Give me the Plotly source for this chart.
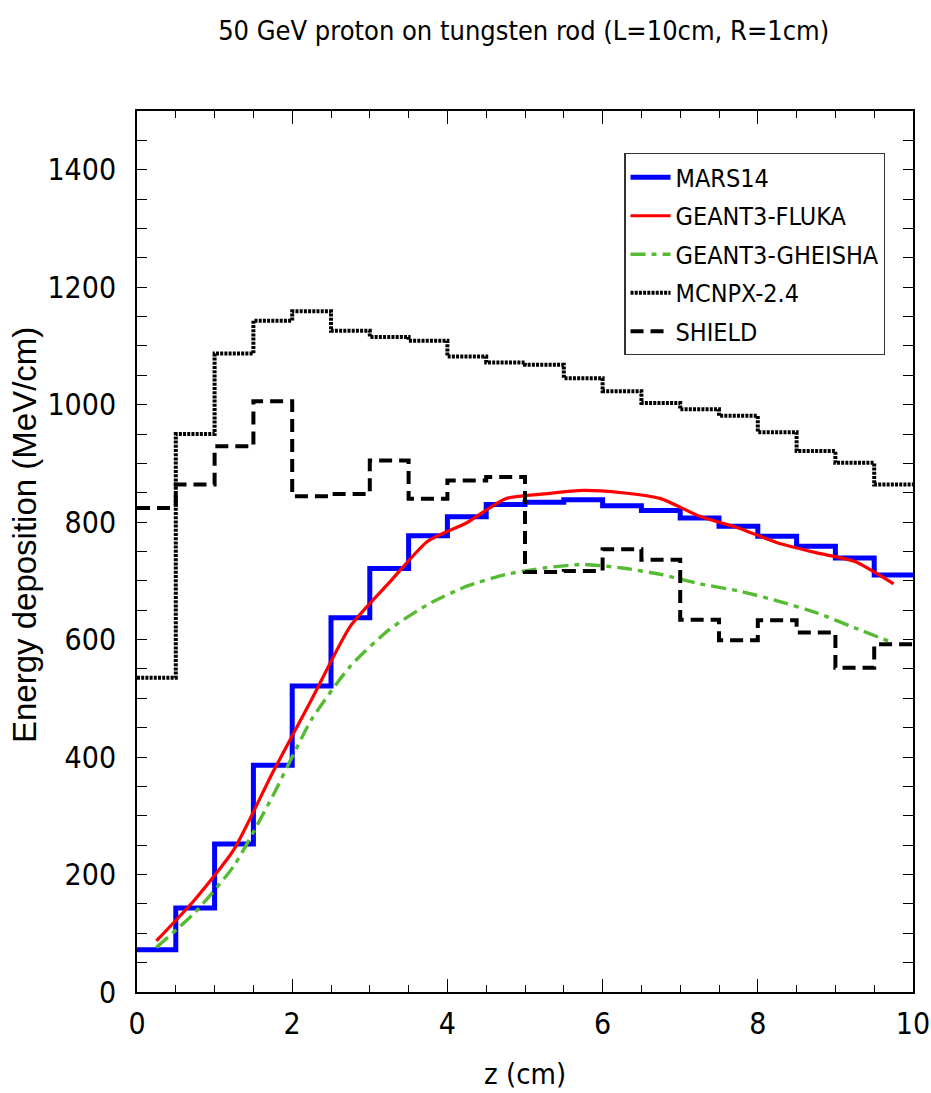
import plotly.graph_objects as go

# Bin edges along the rod (cm), 0.5 cm bins
z_edges = [0.0, 0.5, 1.0, 1.5, 2.0, 2.5, 3.0, 3.5, 4.0, 4.5, 5.0,
           5.5, 6.0, 6.5, 7.0, 7.5, 8.0, 8.5, 9.0, 9.5, 10.0]
# Bin centres used by the GEANT3 curves
z_centres = [0.25, 0.75, 1.25, 1.75, 2.25, 2.75, 3.25, 3.75, 4.25, 4.75,
             5.25, 5.75, 6.25, 6.75, 7.25, 7.75, 8.25, 8.75, 9.25, 9.75]

# Energy deposition per bin (MeV/cm)
mars14 = [72, 143, 252, 386, 521, 637, 721, 777, 809, 830,
          834, 838, 828, 820, 807, 793, 776, 759, 739, 710]
mcnpx = [535, 950, 1087, 1143, 1159, 1126, 1115, 1109, 1082, 1072,
         1068, 1045, 1023, 1003, 992, 981, 953, 921, 901, 864]
shield = [824, 864, 929, 1006, 844, 848, 905, 840, 871, 877,
          715, 717, 754, 736, 634, 599, 633, 612, 552, 592]
fluka = [87, 158, 243, 374, 498, 623, 697, 768, 799, 840,
         848, 854, 850, 840, 810, 790, 765, 748, 733, 695]
gheisha = [76, 136, 215, 334, 464, 555, 617, 660, 691, 711,
           722, 728, 722, 711, 695, 683, 666, 646, 620, 594]

x_ticks = [0, 2, 4, 6, 8, 10]
y_ticks = [0, 200, 400, 600, 800, 1000, 1200, 1400]

NARROW = "Liberation Sans Narrow, DejaVu Sans Condensed, Arial Narrow, sans-serif"
REGULAR = "Liberation Sans, Arial, sans-serif"


def steps(values):
    # repeat the last bin so the 'hv' step closes at the final edge
    return values + [values[-1]]


fig = go.Figure()
fig.add_trace(go.Scatter(
    x=z_edges, y=steps(mars14), mode="lines", name="MARS14", legendgroup="a",
    line=dict(color="#0000ff", width=5, shape="hv")))
fig.add_trace(go.Scatter(
    x=z_centres, y=fluka, mode="lines", name="GEANT3-FLUKA", legendgroup="b",
    line=dict(color="#ff0000", width=3.2, shape="spline", smoothing=0.6)))
fig.add_trace(go.Scatter(
    x=z_centres, y=gheisha, mode="lines", name="GEANT3-GHEISHA", legendgroup="c",
    line=dict(color="#55bb33", width=3.4, shape="spline", smoothing=0.6,
              dash="15px,6px,5px,6px")))
fig.add_trace(go.Scatter(
    x=z_edges, y=steps(mcnpx), mode="lines", name="MCNPX-2.4", legendgroup="d",
    line=dict(color="#000000", width=4, shape="hv", dash="3px,1.2px")))
fig.add_trace(go.Scatter(
    x=z_edges, y=steps(shield), mode="lines", name="SHIELD", legendgroup="e",
    line=dict(color="#000000", width=4, shape="hv", dash="13px,7px")))

fig.update_layout(
    template="none",
    width=931, height=1093,
    margin=dict(l=137, r=18, t=111, b=101, autoexpand=False),
    paper_bgcolor="white", plot_bgcolor="white",
    title=dict(text="50 GeV proton on tungsten rod (L=10cm, R=1cm)",
               font=dict(family=NARROW, size=27, color="black"),
               x=0.5625, xanchor="center", y=0.972, yanchor="middle"),
    showlegend=True,
    legend=dict(x=0.628, y=0.952, xanchor="left", yanchor="top",
                bgcolor="white", bordercolor="#333333", borderwidth=1.2,
                font=dict(family=NARROW, size=25, color="black"),
                tracegroupgap=3, itemwidth=40),
    annotations=[
        dict(text="Energy deposition (MeV/cm)", textangle=-90,
             xref="paper", yref="paper", x=-0.144, y=0.519,
             xanchor="center", yanchor="middle", showarrow=False,
             font=dict(family=REGULAR, size=33, color="black")),
        dict(text="z (cm)", xref="paper", yref="paper", x=0.5, y=-0.093,
             xanchor="center", yanchor="middle", showarrow=False,
             font=dict(family=NARROW, size=29, color="black")),
    ],
)

fig.update_xaxes(
    range=[0, 10], tickvals=x_ticks, ticks="inside", ticklen=13, tickwidth=1.2,
    tickcolor="black", showline=True, linecolor="black", linewidth=1.8,
    mirror="allticks", showgrid=False, zeroline=False, automargin=False,
    minor=dict(dtick=0.5, ticks="inside", ticklen=7, tickwidth=1, tickcolor="black"),
    tickfont=dict(family=NARROW, size=30, color="black"), ticklabelstandoff=4,
)
fig.update_yaxes(
    range=[0, 1500], tickvals=y_ticks, ticks="inside", ticklen=10, tickwidth=1.2,
    tickcolor="black", showline=True, linecolor="black", linewidth=1.8,
    mirror="allticks", showgrid=False, zeroline=False, automargin=False,
    minor=dict(dtick=50, ticks="inside", ticklen=10, tickwidth=1, tickcolor="black"),
    tickfont=dict(family=NARROW, size=30, color="black"), ticklabelstandoff=13,
)

fig.write_html("out.html")
